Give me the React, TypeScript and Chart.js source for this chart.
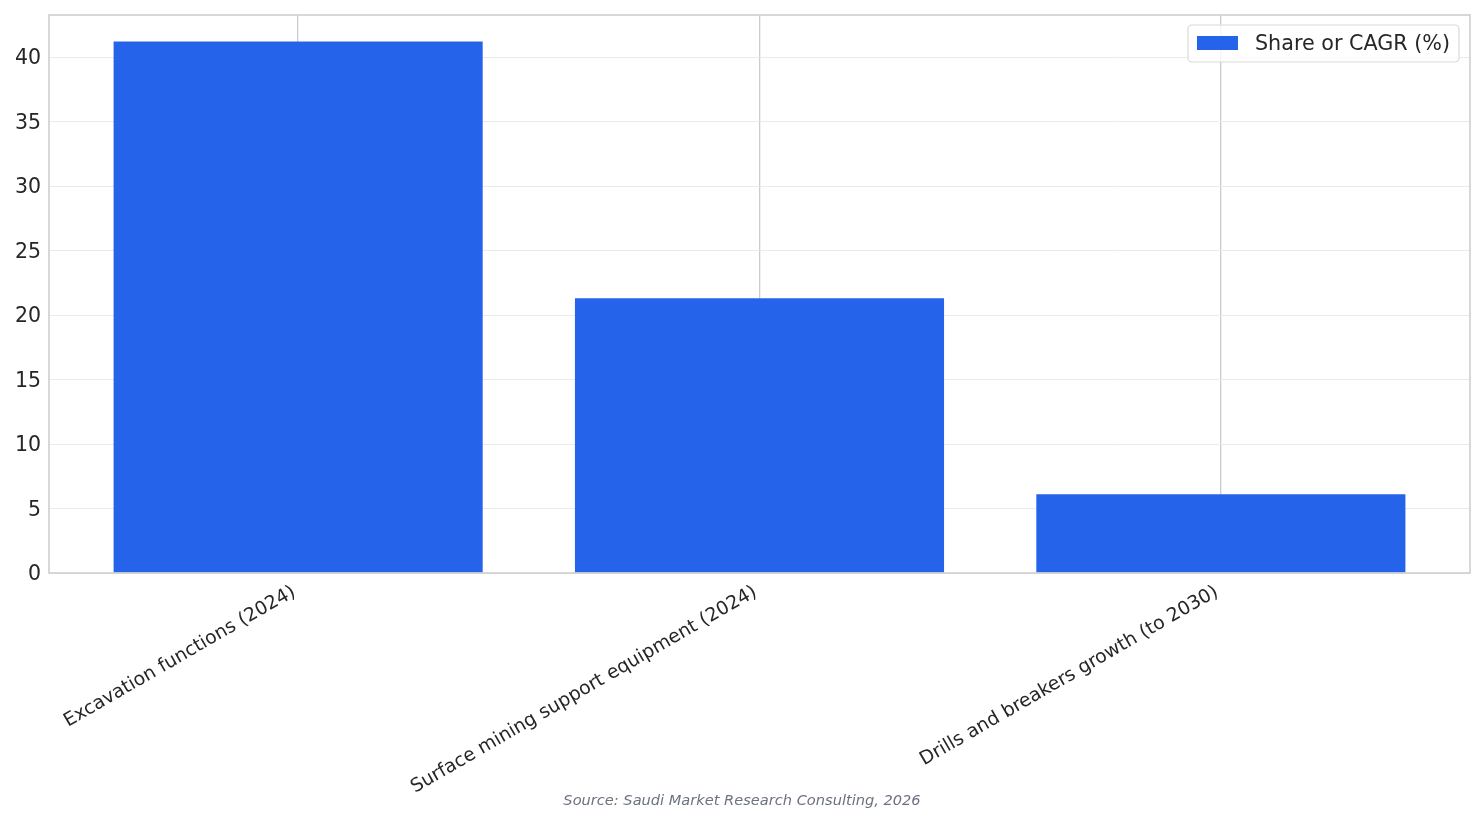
import React, { useEffect, useRef } from "react";
import { Chart, registerables } from "chart.js";

Chart.register(...registerables);

const categories = [
  "Excavation functions (2024)",
  "Surface mining support equipment (2024)",
  "Drills and breakers growth (to 2030)",
];
const values = [41.2, 21.3, 6.1];
const seriesLabel = "Share or CAGR (%)";
const sourceText = "Source: Saudi Market Research Consulting, 2026";
const yMax = 43.26;

const BAR_COLOR = "#2563EB";
const TEXT_COLOR = "#262626";
const FONT = "'DejaVu Sans', sans-serif";

const framePlugin = {
  id: "frameAndLegend",
  afterDatasetsDraw(chart: any) {
    const { ctx, chartArea } = chart;
    ctx.save();
    ctx.strokeStyle = "#cccccc";
    ctx.lineWidth = 1.5;
    ctx.strokeRect(chartArea.left, chartArea.top, chartArea.right - chartArea.left, chartArea.bottom - chartArea.top);

    const label = chart.data.datasets[0].label;
    ctx.font = `20.7px ${FONT}`;
    const tw = ctx.measureText(label).width;
    const boxW = 9 + 41 + 17 + tw + 9;
    const boxH = 37;
    const x0 = chartArea.right - 11 - boxW;
    const y0 = chartArea.top + 10;
    ctx.beginPath();
    const r = 4;
    ctx.moveTo(x0 + r, y0);
    ctx.lineTo(x0 + boxW - r, y0);
    ctx.arcTo(x0 + boxW, y0, x0 + boxW, y0 + r, r);
    ctx.lineTo(x0 + boxW, y0 + boxH - r);
    ctx.arcTo(x0 + boxW, y0 + boxH, x0 + boxW - r, y0 + boxH, r);
    ctx.lineTo(x0 + r, y0 + boxH);
    ctx.arcTo(x0, y0 + boxH, x0, y0 + boxH - r, r);
    ctx.lineTo(x0, y0 + r);
    ctx.arcTo(x0, y0, x0 + r, y0, r);
    ctx.closePath();
    ctx.fillStyle = "rgba(255,255,255,0.8)";
    ctx.fill();
    ctx.strokeStyle = "#d9d9d9";
    ctx.lineWidth = 1.2;
    ctx.stroke();
    ctx.fillStyle = chart.data.datasets[0].backgroundColor;
    ctx.fillRect(x0 + 9, y0 + 11, 41, 14);
    ctx.fillStyle = TEXT_COLOR;
    ctx.textBaseline = "middle";
    ctx.textAlign = "left";
    ctx.fillText(label, x0 + 9 + 41 + 17, y0 + boxH / 2 + 1);
    ctx.restore();
  },
  afterDraw(chart: any) {
    const { ctx, width } = chart;
    ctx.save();
    ctx.font = `italic 14.6px ${FONT}`;
    ctx.fillStyle = "#6b7280";
    ctx.textAlign = "center";
    ctx.textBaseline = "middle";
    ctx.fillText(sourceText, width / 2, 801);
    ctx.restore();
  },
};

export default function App() {
  const ref = useRef<HTMLCanvasElement | null>(null);
  useEffect(() => {
    document.body.style.margin = "0";
    if (!ref.current) return;
    const chart = new Chart(ref.current, {
      type: "bar",
      data: {
        datasets: [
          {
            label: seriesLabel,
            data: values.map((v, i) => ({ x: i, y: v })),
            backgroundColor: BAR_COLOR,
            borderWidth: 0,
            barPercentage: 0.8,
            categoryPercentage: 1,
          },
        ],
      },
      options: {
        animation: false,
        responsive: false,
        maintainAspectRatio: false,
        devicePixelRatio: 1,
        layout: { padding: { top: 15, right: 14, left: 0, bottom: 0 } },
        plugins: {
          legend: { display: false },
          tooltip: { enabled: false },
        },
        scales: {
          x: {
            type: "linear",
            min: -0.54,
            max: 2.54,
            offset: false,
            grid: { color: "#cccccc", lineWidth: 1.3, drawTicks: false, offset: false },
            border: { display: false },
            ticks: {
              stepSize: 1,
              includeBounds: false,
              autoSkip: false,
              maxRotation: 30,
              minRotation: 30,
              padding: 8,
              labelOffset: -4,
              color: TEXT_COLOR,
              font: { family: FONT, size: 18.8 },
              callback: (v: any) => categories[v as number] ?? "",
            },
            afterFit: (s: any) => {
              s.height = 251;
              s.paddingLeft = 0;
              s.paddingRight = 0;
            },
          },
          y: {
            min: 0,
            max: yMax,
            grid: { color: "#ebebeb", lineWidth: 1, drawTicks: false },
            border: { display: false },
            ticks: {
              stepSize: 5,
              includeBounds: false,
              padding: 8,
              labelOffset: 2,
              color: TEXT_COLOR,
              font: { family: FONT, size: 20.5 },
            },
            afterFit: (s: any) => {
              s.width = 49;
              s.paddingTop = 0;
              s.paddingBottom = 0;
            },
          },
        },
      },
      plugins: [framePlugin],
    });
    return () => chart.destroy();
  }, []);
  return (
    <div style={{ width: 1484, height: 824 }}>
      <canvas ref={ref} width={1484} height={824} style={{ display: "block" }} />
    </div>
  );
}
